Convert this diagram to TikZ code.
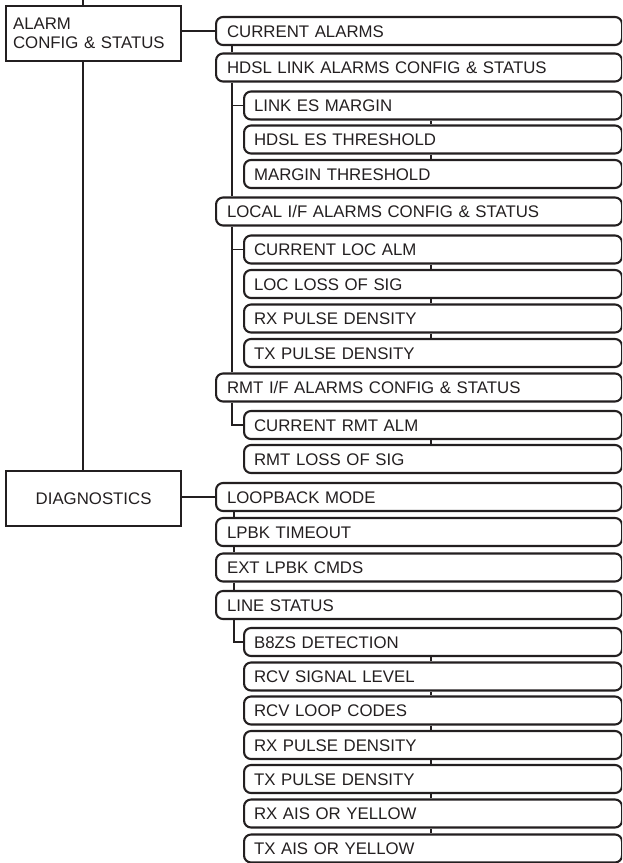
\documentclass[tikz,border=0pt]{standalone}
\usepackage{fontspec}
\setmainfont{Liberation Sans}
\definecolor{ink}{HTML}{231F20}
\begin{document}
\begin{tikzpicture}[x=1pt,y=-1pt,
  every node/.style={font=\fontsize{16.8}{19}\selectfont, text=ink},
  lbox/.style={draw=ink, line width=2.2pt, anchor=north west, inner sep=0pt, minimum width=175pt, minimum height=55pt},
  menu/.style={draw=ink, line width=2.1pt, rounded corners=7pt, anchor=west, minimum height=28pt, text height=12pt, text depth=0pt, inner ysep=0pt, align=left},
  lone/.style={menu, inner xsep=11pt, text width=384pt},
  ltwo/.style={menu, inner xsep=10pt, text width=358pt},
  conn/.style={draw=ink, line width=1.3pt},
  trunk/.style={draw=ink, line width=2pt}]
\useasboundingbox (0,0) rectangle (622,863);
\clip (0,0) rectangle (622,863);
% left boxes
\node[lbox, align=left, text width=161pt, inner xsep=7pt] (alarm) at (5,5) {ALARM\\CONFIG \& STATUS};
\node[lbox] (diag) at (5,470) {DIAGNOSTICS};
% menu items
\node[lone] (c1) at (215,31) {CURRENT ALARMS};
\node[lone] (c2) at (215,67.5) {HDSL LINK ALARMS CONFIG \& STATUS};
\node[ltwo] (c3) at (243,105.5) {LINK ES MARGIN};
\node[ltwo] (c4) at (243,139.5) {HDSL ES THRESHOLD};
\node[ltwo] (c5) at (243,174) {MARGIN THRESHOLD};
\node[lone] (c6) at (215,211.5) {LOCAL I/F ALARMS CONFIG \& STATUS};
\node[ltwo] (c7) at (243,249.5) {CURRENT LOC ALM};
\node[ltwo] (c8) at (243,284) {LOC LOSS OF SIG};
\node[ltwo] (c9) at (243,318.5) {RX PULSE DENSITY};
\node[ltwo] (c10) at (243,353) {TX PULSE DENSITY};
\node[lone] (c11) at (215,387.5) {RMT I/F ALARMS CONFIG \& STATUS};
\node[ltwo] (c12) at (243,425) {CURRENT RMT ALM};
\node[ltwo] (c13) at (243,459) {RMT LOSS OF SIG};
\node[lone] (d1) at (215,497) {LOOPBACK MODE};
\node[lone] (d2) at (215,532) {LPBK TIMEOUT};
\node[lone] (d3) at (215,567.5) {EXT LPBK CMDS};
\node[lone] (d4) at (215,605) {LINE STATUS};
\node[ltwo] (d5) at (243,642) {B8ZS DETECTION};
\node[ltwo] (d6) at (243,676.5) {RCV SIGNAL LEVEL};
\node[ltwo] (d7) at (243,710.5) {RCV LOOP CODES};
\node[ltwo] (d8) at (243,745) {RX PULSE DENSITY};
\node[ltwo] (d9) at (243,779) {TX PULSE DENSITY};
\node[ltwo] (d10) at (243,813.5) {RX AIS OR YELLOW};
\node[ltwo] (d11) at (243,848.5) {TX AIS OR YELLOW};
% connector guides
\coordinate (top) at (83,0);
\coordinate (ta) at (232,0);
\coordinate (tb) at (234,0);
\coordinate (tc) at (431,0);
% main trunk
\draw[trunk] (top) -- (top |- alarm.north);
\draw[trunk] (top |- alarm.south) -- (top |- diag.north);
\draw[trunk] (alarm.east |- c1.west) -- (c1.west);
\draw[trunk] (diag.east |- d1.west) -- (d1.west);
% alarm group
\draw[conn] (ta |- c1.south) -- (ta |- c2.north);
\draw[conn] (ta |- c2.south) -- (ta |- c6.north);
\draw[conn] (ta |- c3.west) -- (c3.west);
\draw[conn] (ta |- c6.south) -- (ta |- c11.north);
\draw[conn] (ta |- c7.west) -- (c7.west);
\draw[conn] (ta |- c11.south) -- (ta |- c12.west) -- (c12.west);
% diagnostics group
\draw[conn] (tb |- d1.south) -- (tb |- d2.north);
\draw[conn] (tb |- d2.south) -- (tb |- d3.north);
\draw[conn] (tb |- d3.south) -- (tb |- d4.north);
\draw[conn] (tb |- d4.south) -- (tb |- d5.west) -- (d5.west);
% second-level sibling ticks
\foreach \a/\b in {c3/c4,c4/c5,c7/c8,c8/c9,c9/c10,c12/c13,d5/d6,d6/d7,d7/d8,d8/d9,d9/d10,d10/d11}
  \draw[conn] (tc |- \a.south) -- (tc |- \b.north);
\end{tikzpicture}
\end{document}
